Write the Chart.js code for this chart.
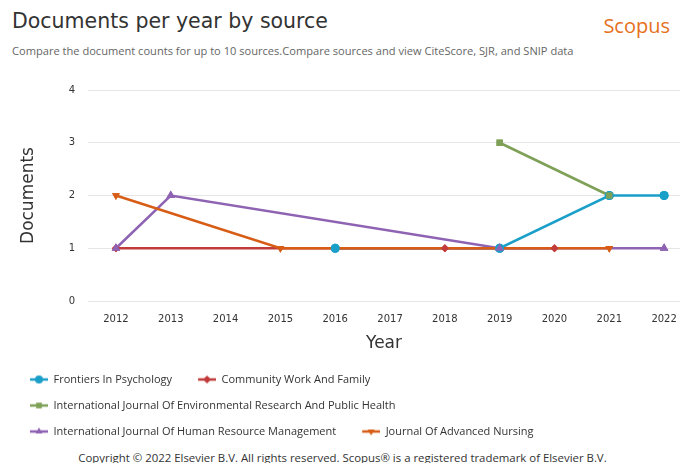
<!DOCTYPE html>
<html>
<head>
<meta charset="utf-8">
<script src="https://cdn.jsdelivr.net/npm/chart.js@4.4.1/dist/chart.umd.min.js"></script>
<style>
    body { margin: 0; width: 685px; height: 463px; overflow: hidden; background: #fff; position: relative; font-family: "Open Sans", sans-serif; }
    .title { position: absolute; left: 12px; top: 9px; font-family: "DejaVu Sans", sans-serif; font-size: 20.5px; color: #333; }
    .brand { position: absolute; right: 15px; top: 12px; font-size: 20px; color: #e6701c; }
    .subtitle { position: absolute; left: 12px; top: 43px; font-size: 11.1px; color: #666; }
    .chart-box { position: absolute; left: 0; top: 70px; width: 685px; height: 380px; }
    .copyright { position: absolute; left: 0; width: 685px; top: 450px; text-align: center; font-size: 11.4px; color: #333; }
</style>
</head>
<body>
<div class="title">Documents per year by source</div>
<div class="brand">Scopus</div>
<div class="subtitle">Compare the document counts for up to 10 sources.Compare sources and view CiteScore, SJR, and SNIP data</div>
<div class="chart-box"><canvas id="chart"></canvas></div>
<div class="copyright">Copyright © 2022 Elsevier B.V. All rights reserved. Scopus® is a registered trademark of Elsevier B.V.</div>

<script>
const years = [2012, 2013, 2014, 2015, 2016, 2017, 2018, 2019, 2020, 2021, 2022];
const yTicks = [0, 1, 2, 3, 4];

const frontiersPsychology = [null, null, null, null, 1, null, null, 1, null, 2, 2];
const communityWorkFamily = [1, null, null, null, null, null, 1, null, 1, null, null];
const envResearchHealth   = [null, null, null, null, null, null, null, 3, null, 2, null];
const humanResourceMgmt   = [1, 2, null, null, null, null, null, 1, null, null, 1];
const advancedNursing     = [2, null, null, 1, null, null, null, null, null, 1, null];

const seriesNames = [
    'Frontiers In Psychology',
    'Community Work And Family',
    'International Journal Of Environmental Research And Public Health',
    'International Journal Of Human Resource Management',
    'Journal Of Advanced Nursing'
];

const seriesStyles = [
    { color: '#1a9fc9', point: 'circle', rotation: 0, radius: 4.5 },
    { color: '#c23b3b', point: 'rectRot', rotation: 0, radius: 4 },
    { color: '#7fa057', point: 'rect', rotation: 0, radius: 4.5 },
    { color: '#8e63b3', point: 'triangle', rotation: 0, radius: 5 },
    { color: '#d75d17', point: 'triangle', rotation: 180, radius: 4.5 }
];

const seriesData = [frontiersPsychology, communityWorkFamily, envResearchHealth, humanResourceMgmt, advancedNursing];

// line + marker icon for the legend, with empty room on the left as item spacing
function legendIcon(style) {
    const c = document.createElement('canvas');
    c.width = 29;
    c.height = 12;
    const ctx = c.getContext('2d');
    ctx.strokeStyle = style.color;
    ctx.lineWidth = 2.5;
    ctx.beginPath();
    ctx.moveTo(11, 6);
    ctx.lineTo(29, 6);
    ctx.stroke();
    ctx.fillStyle = style.color;
    Chart.helpers.drawPoint(ctx, {
        pointStyle: style.point,
        rotation: style.rotation,
        radius: 4,
        borderWidth: 0
    }, 20, 6);
    return c;
}

// markers sit on top of every line, as in the reference
const markersOnTop = {
    id: 'markersOnTop',
    beforeDraw(chart) {
        if (chart.legend) chart.legend.left = 4;
    },
    afterDatasetsDraw(chart) {
        const ctx = chart.ctx;
        chart.data.datasets.forEach(function(ds, i) {
            const meta = chart.getDatasetMeta(i);
            if (!meta.hidden) {
                meta.data.forEach(function(p) {
                    if (!p.skip) p.draw(ctx, chart.chartArea);
                });
            }
        });
    }
};

const datasets = seriesData.map(function(values, i) {
    const s = seriesStyles[i];
    return {
        label: seriesNames[i],
        data: values,
        order: seriesData.length - i,
        borderColor: s.color,
        backgroundColor: s.color,
        pointBackgroundColor: s.color,
        pointBorderWidth: 0,
        pointStyle: s.point,
        pointRotation: s.rotation,
        pointRadius: s.radius,
        borderWidth: 2.5,
        tension: 0,
        spanGaps: true,
        fill: false
    };
});

const icons = seriesStyles.map(legendIcon);

new Chart(document.getElementById('chart'), {
    type: 'line',
    data: { labels: years, datasets: datasets },
    plugins: [markersOnTop],
    options: {
        responsive: true,
        maintainAspectRatio: false,
        animation: false,
        layout: { padding: { left: 0, right: 0, top: 20, bottom: 3 } },
        plugins: {
            tooltip: { enabled: false },
            legend: {
                position: 'bottom',
                align: 'start',
                labels: {
                    usePointStyle: true,
                    pointStyleWidth: 29,
                    padding: 15,
                    color: '#333',
                    font: { family: 'Open Sans', size: 11 },
                    generateLabels: function(chart) {
                        const items = Chart.defaults.plugins.legend.labels.generateLabels(chart);
                        items.sort(function(a, b) { return a.datasetIndex - b.datasetIndex; });
                        items.forEach(function(item) {
                            item.pointStyle = icons[item.datasetIndex];
                            item.rotation = 0;
                        });
                        return items;
                    }
                }
            }
        },
        scales: {
            x: {
                type: 'linear',
                min: 2011.49,
                max: 2022.29,
                grid: { display: false },
                border: { display: false },
                afterBuildTicks: function(scale) {
                    scale.ticks = years.map(function(v) { return { value: v }; });
                },
                afterFit: function(scale) { scale.height = 58; },
                ticks: {
                    padding: 4,
                    color: '#333',
                    font: { family: 'DejaVu Sans', size: 10 },
                    callback: function(v) { return String(v); }
                },
                title: {
                    display: true,
                    text: 'Year',
                    color: '#333',
                    font: { family: 'DejaVu Sans', size: 17 },
                    padding: { top: 0, bottom: 5 }
                }
            },
            y: {
                min: 0,
                max: 4,
                grid: { color: '#e6e6e6', drawTicks: false },
                border: { display: false },
                afterBuildTicks: function(scale) {
                    scale.ticks = yTicks.map(function(v) { return { value: v }; });
                },
                afterFit: function(scale) { scale.width = 88; },
                ticks: {
                    padding: 13,
                    color: '#333',
                    font: { family: 'DejaVu Sans', size: 10 }
                },
                title: {
                    display: true,
                    text: 'Documents',
                    color: '#333',
                    font: { family: 'DejaVu Sans', size: 17 },
                    padding: { top: 18, bottom: 0 }
                }
            }
        }
    }
});
</script>
</body>
</html>
